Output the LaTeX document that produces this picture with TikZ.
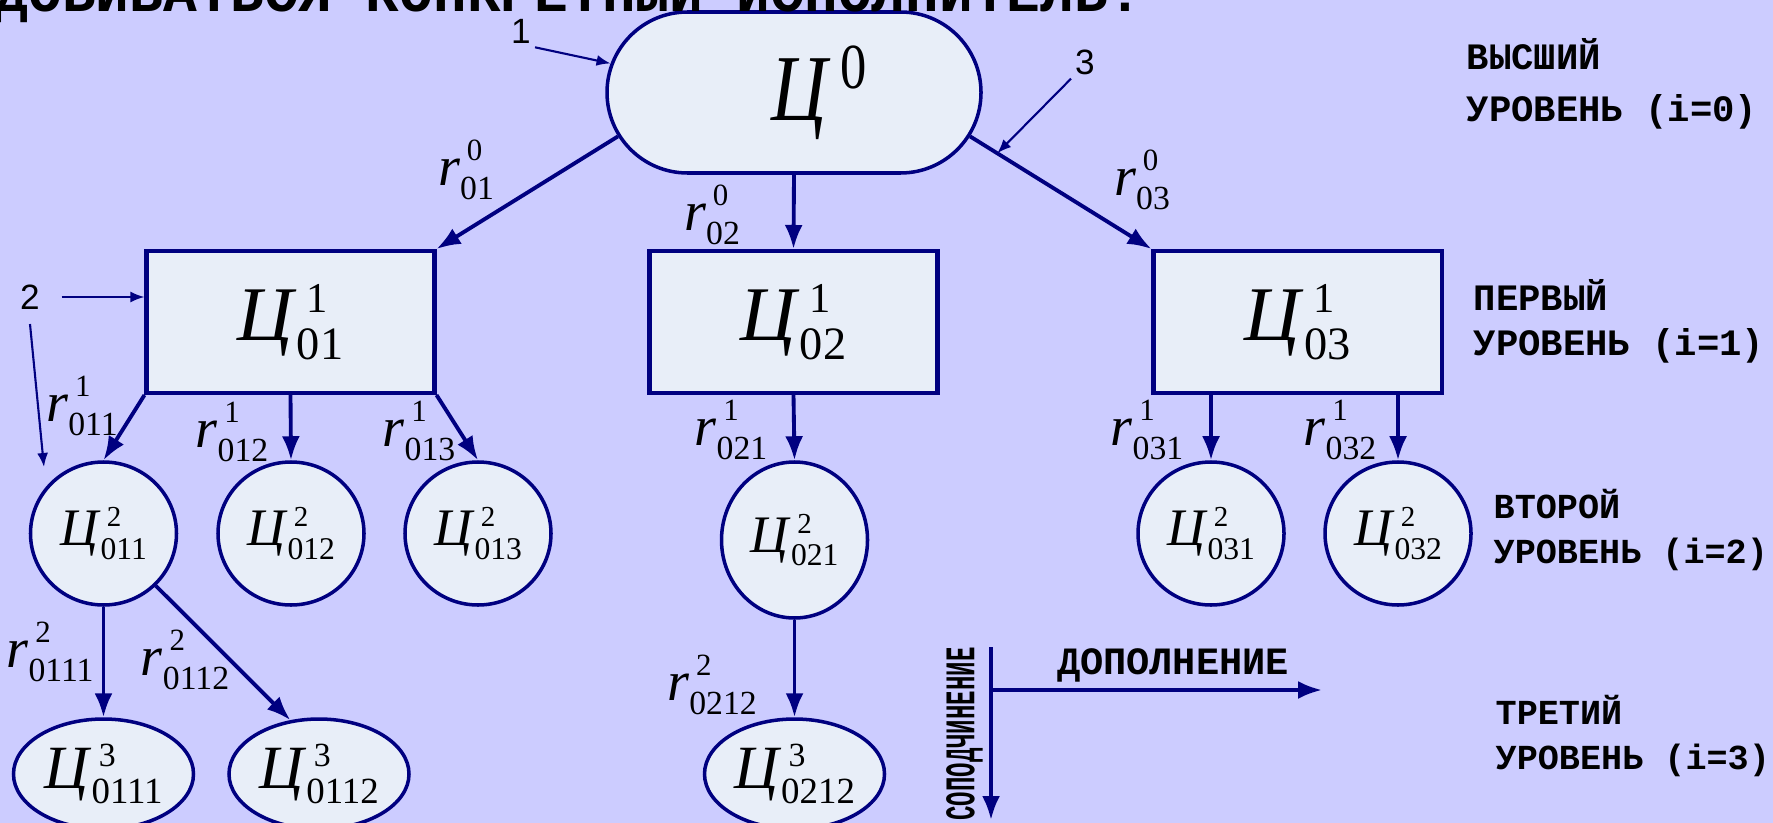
\documentclass[tikz,border=0pt]{standalone}
\usepackage{fontspec}
\setmainfont{Liberation Serif}
\setmonofont{Liberation Mono}
\newfontfamily\labelfont{Liberation Sans}
\usepackage{graphicx}
\usepackage{tikz}
\usetikzlibrary{arrows.meta,shapes.geometric,shapes.misc}
\definecolor{slidebg}{RGB}{204,204,255}
\definecolor{goalfill}{RGB}{232,238,248}
\definecolor{goalline}{RGB}{0,0,128}
\newcommand\scr[3][.36em]{\rlap{\kern.12em\raisebox{#1}{\scalebox{.55}{#2}}}\raisebox{-.25em}{\scalebox{.6}{#3}}}
\newcommand\goal[2]{\textit{Ц}\scr{#1}{#2}}
\newcommand\rel[2]{\textit{r}\scr[.44em]{#1}{#2}}

\begin{document}
\begin{tikzpicture}[x=1cm,y=1cm,
  goaltop/.style={rounded rectangle,draw=goalline,fill=goalfill,line width=1pt,minimum width=3.74cm,minimum height=1.61cm,inner sep=0pt,font=\fontsize{22}{26}\selectfont},
  goalbox/.style={rectangle,draw=goalline,fill=goalfill,line width=1.15pt,minimum width=2.88cm,minimum height=1.42cm,inner sep=0pt,font=\fontsize{22}{26}\selectfont},
  goalnode/.style={ellipse,draw=goalline,fill=goalfill,line width=1pt,minimum width=1.46cm,minimum height=1.43cm,inner sep=0pt,font=\fontsize{15}{18}\selectfont},
  goalleaf/.style={ellipse,draw=goalline,fill=goalfill,line width=1pt,minimum width=1.8cm,minimum height=1.1cm,inner sep=0pt,font=\fontsize{17.5}{21}\selectfont},
  rlab/.style={font=\fontsize{16}{19}\selectfont,inner sep=0pt},
  lvl/.style={font=\fontsize{10}{12}\selectfont\ttfamily\bfseries,inner sep=0pt,text height=5.7pt,text depth=0pt},
  lvlbig/.style={lvl,font=\fontsize{10.6}{12}\selectfont\ttfamily\bfseries,text height=6pt},
  callout/.style={font=\fontsize{10}{12}\selectfont\labelfont,inner sep=1pt},
  flow/.style={-{Latex[length=2.4mm,width=1.8mm]},draw=goalline,line width=1.1pt},
  pointer/.style={-{Latex[length=1.4mm,width=1.1mm]},draw=goalline,line width=.6pt}]

\fill[slidebg] (0,0) rectangle (17.73,-8.23);
\path[use as bounding box] (0,0) rectangle (17.73,-8.23);

\node[goaltop] (top) at (7.94,-.925)
  {\hspace*{5mm}\scalebox{1}[1.22]{\textit{Ц}\kern.12em\raisebox{.34em}{\scalebox{.68}{0}}}};
\node[goalbox] (r01) at (2.905,-3.22) {\goal{1}{01}};
\node[goalbox] (r02) at (7.935,-3.22) {\goal{1}{02}};
\node[goalbox] (r03) at (12.975,-3.22) {\goal{1}{03}};
\node[goalnode] (c011) at (1.035,-5.335) {\goal{2}{011}};
\node[goalnode] (c012) at (2.91,-5.335) {\goal{2}{012}};
\node[goalnode] (c013) at (4.78,-5.335) {\goal{2}{013}};
\node[goalnode,minimum height=1.56cm] (c021) at (7.945,-5.40) {\goal{2}{021}};
\node[goalnode] (c031) at (12.11,-5.335) {\goal{2}{031}};
\node[goalnode] (c032) at (13.98,-5.335) {\goal{2}{032}};
\node[goalleaf] (c0111) at (1.035,-7.74) {\goal{3}{0111}};
\node[goalleaf] (c0112) at (3.19,-7.74) {\goal{3}{0112}};
\node[goalleaf] (c0212) at (7.945,-7.74) {\goal{3}{0212}};

\draw[flow] (top.194)--(r01.north east);
\draw[flow] (top.south)--(r02.north);
\draw[flow] (top.-14)--coordinate[pos=.15] (p3) (r03.north west);
\draw[flow] (r01.south west)--(c011.north);
\draw[flow] (r01.south)--(c012.north);
\draw[flow] (r01.south east)--(c013.north);
\draw[flow] (r02.south)--(c021.north);
\draw[flow] (c031.north |- r03.south)--(c031.north);
\draw[flow] (c032.north |- r03.south)--(c032.north);
\draw[flow] (c011.south)--(c0111.north);
\draw[flow] (c011.-45)--(c0112.118);
\draw[flow] (c021.south)--(c0212.north);

\node[rlab] (l01) at (4.66,-1.70) {\rel{0}{01}};
\node[rlab] (l02) at (7.12,-2.15) {\rel{0}{02}};
\node[rlab] (l03) at (11.42,-1.80) {\rel{0}{03}};
\node[rlab] (l011) at (.82,-4.06) {\rel{1}{011}};
\node[rlab] (l012) at (2.32,-4.32) {\rel{1}{012}};
\node[rlab] (l013) at (4.19,-4.31) {\rel{1}{013}};
\node[rlab] (l021) at (7.31,-4.30) {\rel{1}{021}};
\node[rlab] (l031) at (11.47,-4.30) {\rel{1}{031}};
\node[rlab] (l032) at (13.40,-4.30) {\rel{1}{032}};
\node[rlab] (l0111) at (.50,-6.52) {\rel{2}{0111}};
\node[rlab] (l0112) at (1.85,-6.60) {\rel{2}{0112}};
\node[rlab] (l0212) at (7.12,-6.85) {\rel{2}{0212}};

\node[callout] (n1) at (5.21,-.31) {1};
\node[callout] (n2) at (.30,-2.97) {2};
\node[callout] (n3) at (10.85,-.62) {3};
\coordinate (p2) at (.44,-4.67);
\draw[pointer] (n1.south east)--(top.171);
\draw[pointer] (n3.south west)--(p3);
\draw[pointer] ([xshift=5pt]n2.east)--(n2.east -| r01.west);
\draw[pointer] ([yshift=-3pt]n2.south)--(p2);

\coordinate (subtop) at (9.91,-6.47);
\coordinate (subend) at (9.91,-8.20);
\coordinate (addstart) at (9.91,-6.90);
\coordinate (addend) at (13.22,-6.90);
\draw[flow] (subtop)--(subend);
\draw[flow] (addstart)--(addend);
\node[lvl,font=\fontsize{11}{13}\selectfont\ttfamily\bfseries] (add) at (11.73,-6.64) {ДОПОЛНЕНИЕ};
\node[lvl,rotate=90,font=\fontsize{12}{14}\selectfont\ttfamily\bfseries,text height=7pt] (sub) at (9.62,-7.34)
  {\scalebox{.57}[1]{СОПОДЧИНЕНИЕ}};

\node[lvlbig,anchor=west] (lv0a) at (14.66,-.59) {ВЫСШИЙ};
\node[lvlbig,anchor=west] (lv0b) at (14.66,-1.11) {УРОВЕНЬ (i=0)};
\node[lvlbig,anchor=west] (lv1a) at (14.73,-3.00) {ПЕРВЫЙ};
\node[lvlbig,anchor=west] (lv1b) at (14.73,-3.45) {УРОВЕНЬ (i=1)};
\node[lvl,anchor=west] (lv2a) at (14.93,-5.08) {ВТОРОЙ};
\node[lvl,anchor=west] (lv2b) at (14.93,-5.53) {УРОВЕНЬ (i=2)};
\node[lvl,anchor=west] (lv3a) at (14.95,-7.14) {ТРЕТИЙ};
\node[lvl,anchor=west] (lv3b) at (14.95,-7.59) {УРОВЕНЬ (i=3)};

\begin{scope}
\clip (0,0) rectangle (17.73,-8.23);
\node[font=\fontsize{16}{19}\selectfont\ttfamily\bfseries,anchor=base west,inner sep=0pt] (heading)
  at (-.06,-.12) {ДОБИВАТЬСЯ КОНКРЕТНЫЙ ИСПОЛНИТЕЛЬ:};
\end{scope}
\end{tikzpicture}
\end{document}
